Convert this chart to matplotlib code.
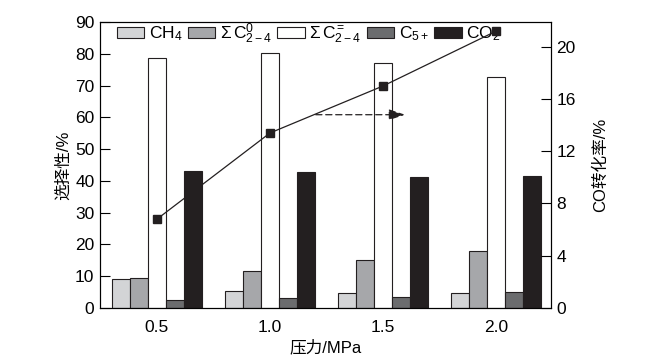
import numpy as np
import matplotlib.pyplot as plt
from matplotlib.patches import Patch

plt.rcParams['font.family'] = ['Liberation Sans', 'Noto Sans CJK SC', 'DejaVu Sans']
plt.rcParams['mathtext.fontset'] = 'custom'
plt.rcParams['mathtext.rm'] = 'Liberation Sans'
plt.rcParams['mathtext.it'] = 'Liberation Sans'

# data
pressure = [0.5, 1.0, 1.5, 2.0]
ch4 = [9.0, 5.2, 4.6, 4.6]
c_alkane = [9.3, 11.5, 15.0, 18.0]
c_olefin = [78.6, 80.1, 77.0, 72.6]
c5plus = [2.4, 3.0, 3.4, 4.9]
co2 = [43.1, 42.8, 41.2, 41.5]
co_conv = [6.8, 13.4, 17.0, 21.2]

labels = ['CH$_4$', r'$\Sigma\,$C$^0_{2-4}$', r'$\Sigma\,$C$^=_{2-4}$', 'C$_{5+}$', 'CO$_2$']
colors = ['#d3d4d6', '#a6a7aa', '#ffffff', '#6b6c6e', '#231f20']

fs = 12.5

fig = plt.figure(figsize=(6.63, 3.61), dpi=100)
ax = fig.add_axes([0.1508, 0.147, 0.6802, 0.792])

x = np.array(pressure)
w = 0.08
series = [ch4, c_alkane, c_olefin, c5plus, co2]
for i, (vals, c) in enumerate(zip(series, colors)):
    ax.bar(x + (i - 2) * w, vals, w, color=c, edgecolor='#231f20', linewidth=0.8)

ax.set_xlim(0.248, 2.243)
ax.set_ylim(0, 90)
ax.set_xticks(pressure)
ax.set_xticklabels(['0.5', '1.0', '1.5', '2.0'])
ax.set_yticks(np.arange(0, 91, 10))
ax.tick_params(axis='y', direction='in', length=7, width=0.8, labelsize=fs, pad=4)
ax.tick_params(axis='x', length=0, labelsize=fs, pad=9)
ax.set_xlabel('压力/MPa', fontsize=12, labelpad=3)
ax.set_ylabel('选择性/%', fontsize=12, labelpad=3)
for s in ax.spines.values():
    s.set_linewidth(0.8)

ax2 = ax.twinx()
ax2.plot(x, co_conv, '-s', color='#231f20', linewidth=0.9, markersize=5.5)
ax2.set_ylim(0, 21.9)
ax2.set_yticks([0, 4, 8, 12, 16, 20])
ax2.tick_params(axis='y', direction='in', length=7, width=0.8, labelsize=fs, pad=4)
ax2.set_ylabel('CO转化率/%', fontsize=12, labelpad=12)
ax2.annotate('', xy=(1.61, 14.8), xytext=(1.19, 14.8),
             arrowprops=dict(arrowstyle='-|>,head_length=0.9,head_width=0.3',
                             linestyle=(0, (5, 3)), color='#231f20',
                             linewidth=0.9, mutation_scale=11))

handles = [Patch(facecolor=c, edgecolor='#231f20', linewidth=0.8) for c in colors]
ax.legend(handles, labels, ncol=5, frameon=False, loc='upper left',
          bbox_to_anchor=(0.01, 1.045), fontsize=fs, handlelength=1.6,
          handleheight=0.65, handletextpad=0.25, columnspacing=0.3,
          borderaxespad=0.3)

fig.savefig('out.png', dpi=100)
